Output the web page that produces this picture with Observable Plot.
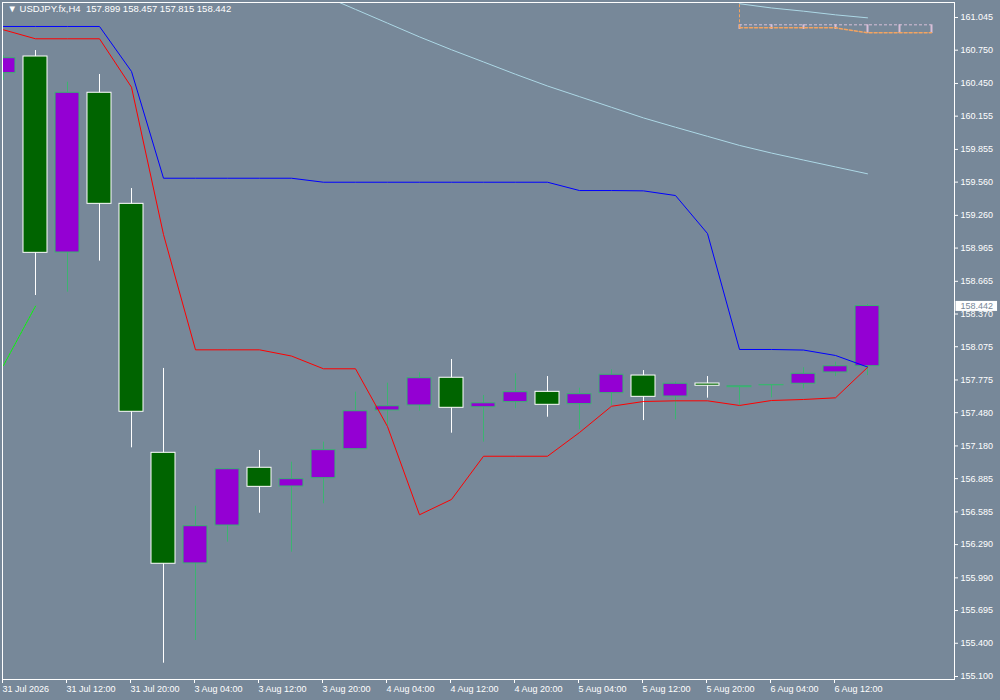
<!DOCTYPE html>
<html>
<head>
<meta charset="utf-8">
<script src="https://cdn.jsdelivr.net/npm/d3@7"></script>
<script src="https://cdn.jsdelivr.net/npm/@observablehq/plot@0.6"></script>
<style>
  html, body { margin: 0; padding: 0; background: #778899; }
  svg { display: block; }
</style>
</head>
<body>
<div id="chart"></div>
<script>
// ---------------- DATA ----------------
const symbol = "USDJPY.fx";
const timeframe = "H4";

// H4 bars (bar index = position in these arrays)
const barTimes = [
  "31 Jul 04:00","31 Jul 08:00","31 Jul 12:00","31 Jul 16:00","31 Jul 20:00",
  "3 Aug 00:00","3 Aug 04:00","3 Aug 08:00","3 Aug 12:00","3 Aug 16:00","3 Aug 20:00",
  "4 Aug 00:00","4 Aug 04:00","4 Aug 08:00","4 Aug 12:00","4 Aug 16:00","4 Aug 20:00",
  "5 Aug 00:00","5 Aug 04:00","5 Aug 08:00","5 Aug 12:00","5 Aug 16:00","5 Aug 20:00",
  "6 Aug 00:00","6 Aug 04:00","6 Aug 08:00","6 Aug 12:00","6 Aug 16:00"
];
const open = [160.543,160.693,158.925,160.366,159.364,157.118,156.120,156.462,156.983,156.814,156.889,
  157.150,157.500,157.545,157.795,157.529,157.575,157.668,157.557,157.656,157.815,157.626,157.743,
  157.710,157.727,157.741,157.843,157.899];
const high = [160.700,160.747,160.461,160.531,159.502,157.879,156.636,156.976,157.139,157.033,157.214,
  157.665,157.746,157.840,157.960,157.635,157.831,157.806,157.701,157.867,157.860,157.755,157.806,
  157.720,157.734,157.885,157.935,158.457];
const low = [160.477,158.537,158.567,158.847,157.163,155.220,155.425,156.312,156.573,156.221,156.658,
  157.150,157.364,157.493,157.295,157.214,157.515,157.439,157.326,157.545,157.409,157.416,157.611,
  157.542,157.614,157.695,157.806,157.815];
const close = [160.678,158.922,160.366,159.364,157.488,156.117,156.456,156.970,156.811,156.880,157.142,
  157.493,157.538,157.791,157.524,157.565,157.665,157.551,157.647,157.822,157.623,157.741,157.723,
  157.719,157.730,157.831,157.899,158.442];

// channel lines (blue upper / red lower), one value per bar
const upperLine = [160.964,160.964,160.964,160.964,160.558,159.595,159.595,159.595,159.595,159.595,
  159.559,159.559,159.559,159.559,159.559,159.559,159.559,159.559,159.484,159.484,159.481,159.439,
  159.096,158.050,158.050,158.045,157.996,157.892];
const lowerLine = [160.934,160.853,160.853,160.853,160.416,159.087,158.047,158.047,158.047,157.991,
  157.876,157.876,157.355,156.559,156.697,157.087,157.087,157.087,157.301,157.538,157.581,157.587,
  157.587,157.545,157.590,157.599,157.614,157.888];

// slow moving average (light blue), from bar 10 onwards
const slowMaStart = 10;
const slowMa = [161.242,161.118,160.994,160.870,160.754,160.644,160.533,160.427,160.331,160.235,
  160.139,160.055,159.973,159.891,159.822,159.759,159.697,159.635];

// short light-blue line at top right, from bar 23
const topLineStart = 23;
const topLine = [161.169,161.131,161.102,161.069,161.042];

// projection objects at top right
const projBars = [23,24,25,26,27,28,29];
const projTop = 160.979;
const projTickBottom = [160.937,160.937,160.937,160.937,160.901,160.901,160.901];
const projOrangeBars = [23,26,27,29];
const projOrange = [160.952,160.952,160.907,160.907];
const projVertical = [161.185,160.952];

// green dotted segment at left
const greenBars = [0,1];
const greenVals = [157.906,158.441];

// axis ticks
const xTickBars = [0,2,4,6,8,10,12,14,16,18,20,22,24,26];
const xTickLabels = ["31 Jul 2026","31 Jul 12:00","31 Jul 20:00","3 Aug 04:00","3 Aug 12:00",
  "3 Aug 20:00","4 Aug 04:00","4 Aug 12:00","4 Aug 20:00","5 Aug 04:00","5 Aug 12:00",
  "5 Aug 20:00","6 Aug 04:00","6 Aug 12:00"];
const yTicks = [161.045,160.750,160.450,160.155,159.855,159.560,159.260,158.965,158.665,158.370,
  158.075,157.775,157.480,157.180,156.885,156.585,156.290,155.990,155.695,155.400,155.100];

// ---------------- BUILD ----------------
const BG = "#778899";
const BULL_FILL = "#9400d3", BULL_EDGE = "#3cb371";
const BEAR_FILL = "#006400", BEAR_EDGE = "#ffffff";

const candles = barTimes.map((t, i) => ({
  k: i, t, o: open[i], h: high[i], l: low[i], c: close[i], bull: close[i] >= open[i]
}));
const upperData = upperLine.map((v, i) => ({k: i, v}));
const lowerData = lowerLine.map((v, i) => ({k: i, v}));
const slowData = slowMa.map((v, i) => ({k: i + slowMaStart, v}));
const topData = topLine.map((v, i) => ({k: i + topLineStart, v}));
const projTicks = projBars.map((k, i) => ({k, y1: projTickBottom[i], y2: projTop}));
const orangeData = projOrangeBars.map((k, i) => ({k, v: projOrange[i]}));
const greenData = greenBars.map((k, i) => ({k, v: greenVals[i]}));
const last = candles.length - 1;
const lastLabel = close[last].toFixed(3);
const titleText = `▼ ${symbol},${timeframe}\u00a0\u00a0${open[last].toFixed(3)} ${high[last].toFixed(3)} ${low[last].toFixed(3)} ${close[last].toFixed(3)}`;

const plot = Plot.plot({
  width: 1000,
  height: 700,
  marginTop: 2,
  marginBottom: 21,
  marginLeft: 2,
  marginRight: 46,
  style: {background: BG, color: "white", fontFamily: "'Liberation Sans', Arial, sans-serif", fontSize: "9px"},
  x: {domain: [-1 / 32, 951 / 32], range: [2, 954], label: null},
  y: {domain: [155.073, 161.1803], range: [679, 2], label: null},
  marks: [
    // candles
    Plot.ruleX(candles, {x: "k", y1: "l", y2: "h", stroke: d => d.bull ? BULL_EDGE : BEAR_EDGE, strokeWidth: 1, clip: true}),
    Plot.rect(candles, {
      x1: d => d.k - 0.375, x2: d => d.k + 0.375,
      y1: d => Math.min(d.o, d.c), y2: d => Math.max(d.o, d.c),
      fill: d => d.bull ? BULL_FILL : BEAR_FILL,
      stroke: d => d.bull ? BULL_EDGE : BEAR_EDGE,
      strokeWidth: 1, clip: true
    }),
    // indicators
    Plot.line(slowData, {x: "k", y: "v", stroke: "#add8e6", strokeWidth: 1, clip: true}),
    Plot.line(topData, {x: "k", y: "v", stroke: "#add8e6", strokeWidth: 1, clip: true}),
    Plot.line(upperData, {x: "k", y: "v", stroke: "#0000ff", strokeWidth: 1, clip: true}),
    Plot.line(lowerData, {x: "k", y: "v", stroke: "#ff0000", strokeWidth: 1, clip: true}),
    Plot.line(greenData, {x: "k", y: "v", stroke: "#00ff00", strokeWidth: 1, strokeDasharray: "2,1", clip: true}),
    // projection objects
    Plot.ruleY([projTop], {x1: projBars[0], x2: projBars[projBars.length - 1], stroke: "#d8bfd8", strokeDasharray: "3,2", clip: true}),
    Plot.ruleX(projTicks, {x: "k", y1: "y1", y2: "y2", stroke: "#d8bfd8", strokeWidth: 2, clip: true}),
    Plot.line(orangeData, {x: "k", y: "v", stroke: "#f4a460", strokeDasharray: "3,2", clip: true}),
    Plot.ruleX([projBars[0]], {y1: projVertical[1], y2: projVertical[0], stroke: "#f4a460", strokeDasharray: "3,2", clip: true}),
    // frame & axes
    Plot.frame({stroke: "white"}),
    Plot.axisY(yTicks, {anchor: "right", label: null, tickFormat: d => d.toFixed(3), tickSize: 3, tickPadding: 3}),
    Plot.axisX(xTickBars, {anchor: "bottom", label: null, tickFormat: d => xTickLabels[xTickBars.indexOf(d)], tickSize: 4, tickPadding: 2, textAnchor: "start", dx: -1}),
    // title
    Plot.text([titleText], {frameAnchor: "top-left", text: d => d, dx: 5, dy: 3, lineAnchor: "top", textAnchor: "start", fill: "white", fontSize: 9.5}),
    // current price label
    Plot.text([close[last]], {y: d => d, frameAnchor: "right", text: d => d.toFixed(3), dx: 6, textAnchor: "start", fill: BG})
  ]
});

document.getElementById("chart").appendChild(plot);

// white box behind the current-price label, sized from the rendered text
const lblText = Array.from(plot.querySelectorAll("text")).find(t => t.textContent === lastLabel);
if (lblText) {
  const g = lblText.parentNode;
  const bb = lblText.getBBox();
  const r = document.createElementNS("http://www.w3.org/2000/svg", "rect");
  r.setAttribute("x", bb.x - 5);
  r.setAttribute("y", bb.y);
  r.setAttribute("width", bb.width + 9);
  r.setAttribute("height", bb.height);
  r.setAttribute("fill", "white");
  if (lblText.getAttribute("transform")) r.setAttribute("transform", lblText.getAttribute("transform"));
  g.insertBefore(r, lblText);
  plot.appendChild(g);
}
</script>
</body>
</html>
